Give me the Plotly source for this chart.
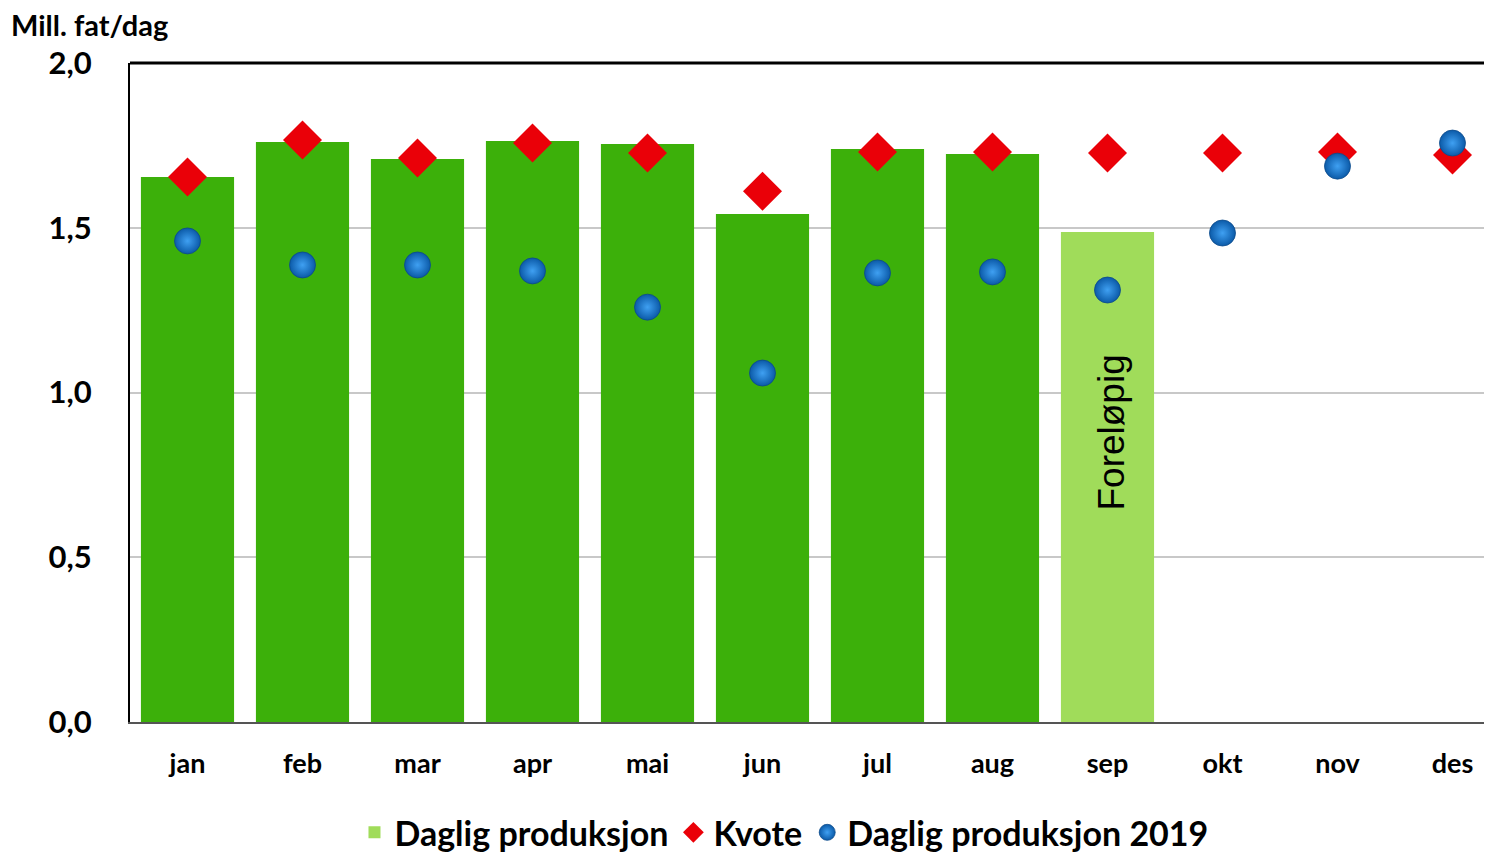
import plotly.graph_objects as go

months = ["jan", "feb", "mar", "apr", "mai", "jun", "jul", "aug", "sep", "okt", "nov", "des"]
produksjon_final = [1.654, 1.760, 1.709, 1.763, 1.754, 1.542, 1.739, 1.724]
produksjon_prelim = [1.487]
kvote = [1.654, 1.766, 1.712, 1.757, 1.727, 1.611, 1.730, 1.730, 1.727, 1.727, 1.730, 1.721]
prod_2019 = [1.460, 1.387, 1.387, 1.369, 1.259, 1.059, 1.363, 1.366, 1.311, 1.484, 1.687, 1.757]
y_ticks = [0.0, 0.5, 1.0, 1.5, 2.0]
y_tick_labels = ["0,0", "0,5", "1,0", "1,5", "2,0"]

FONT = "Lato, 'Open Sans', sans-serif"

fig = go.Figure()
fig.add_trace(go.Bar(
    x=months[:len(produksjon_final)], y=produksjon_final,
    marker=dict(color="#3cb00a", line=dict(width=0)),
    width=0.81, showlegend=False, name="Daglig produksjon",
))
fig.add_trace(go.Bar(
    x=months[len(produksjon_final):len(produksjon_final) + len(produksjon_prelim)],
    y=produksjon_prelim,
    marker=dict(color="#a0dc5a", line=dict(width=0)),
    width=0.81, name="<b>Daglig produksjon</b>",
))
fig.add_trace(go.Scatter(
    x=months, y=kvote, mode="markers", name="<b>Kvote</b>",
    marker=dict(symbol="diamond", size=30, color="#ea0008", line=dict(width=0)),
))
fig.add_trace(go.Scatter(
    x=months, y=prod_2019, mode="markers", name="<b>Daglig produksjon 2019</b>",
    marker=dict(symbol="circle", size=26, color="#0b5aa8",
                gradient=dict(type="radial", color="#3fa0f2"),
                line=dict(width=0.8, color="#0b4a8a")),
))

fig.add_annotation(
    x="sep", y=0.88, xshift=4, text="Foreløpig", textangle=-90, showarrow=False,
    font=dict(family="Liberation Sans, Arial, sans-serif", size=37, color="black"),
)
fig.add_annotation(
    xref="paper", yref="paper", x=-0.0894, y=1.0577, xanchor="left", yanchor="middle",
    text="<b>Mill. fat/dag</b>", showarrow=False,
    font=dict(family=FONT, size=29, color="black"),
)

fig.update_layout(
    width=1476, height=846,
    margin=dict(l=122, r=0, t=55, b=132, autoexpand=False),
    plot_bgcolor="white", paper_bgcolor="white",
    barmode="overlay",
    font=dict(family=FONT, color="black"),
    legend=dict(orientation="h", x=0.483, xanchor="center", y=-0.168, yanchor="middle",
                font=dict(family=FONT, size=34, color="black"),
                itemsizing="trace", traceorder="normal", itemwidth=30),
    showlegend=True,
)
fig.update_xaxes(
    type="category", categoryorder="array", categoryarray=months,
    range=[-0.5, 11.274], showline=True, linecolor="#555555", linewidth=2,
    ticks="", tickfont=dict(family=FONT, size=27, color="black"),
    tickprefix="<b>", ticksuffix="</b>", showgrid=False, ticklabelstandoff=17,
    automargin=False,
)
fig.update_yaxes(
    range=[0, 2.0], tickvals=y_ticks, ticktext=["<b>" + t + "</b>" for t in y_tick_labels],
    tickfont=dict(family=FONT, size=31, color="black"),
    showline=True, linecolor="black", linewidth=2, mirror=False,
    showgrid=True, gridcolor="#c8c8c8", gridwidth=1.5, zeroline=False,
    ticks="", ticklabelstandoff=30, automargin=False,
)
fig.add_shape(type="line", xref="paper", yref="paper", x0=0, x1=1, y0=1, y1=1,
              line=dict(color="black", width=3))

fig.write_html("out.html")
